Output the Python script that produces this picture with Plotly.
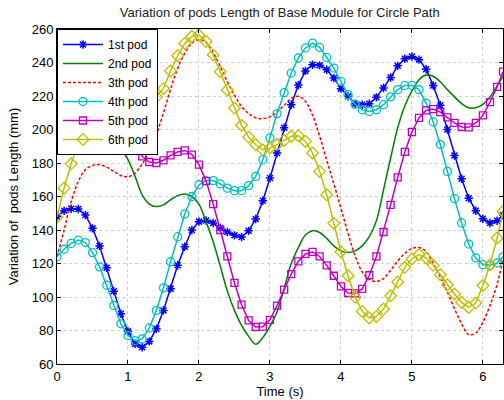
import plotly.graph_objects as go

TIME = [0.0, 0.1, 0.2, 0.3, 0.4, 0.5, 0.6, 0.7, 0.8, 0.9,
        1.0, 1.1, 1.2, 1.3, 1.4, 1.5, 1.6, 1.7, 1.8, 1.9,
        2.0, 2.1, 2.2, 2.3, 2.4, 2.5, 2.6, 2.7, 2.8, 2.9,
        3.0, 3.1, 3.2, 3.3, 3.4, 3.5, 3.6, 3.7, 3.8, 3.9,
        4.0, 4.1, 4.2, 4.3, 4.4, 4.5, 4.6, 4.7, 4.8, 4.9,
        5.0, 5.1, 5.2, 5.3, 5.4, 5.5, 5.6, 5.7, 5.8, 5.9,
        6.0, 6.1, 6.2, 6.2832]

POD1 = [148, 151.5, 152.7, 152.5, 149, 141, 130.5, 117.5, 103.5, 90,
        79.5, 72, 70, 73.5, 81, 92, 105, 119, 130, 140,
        145, 145.7, 144.2, 141.2, 138.8, 136.8, 135.8, 139.5, 146.6, 157.5,
        171, 186, 201, 214.8, 226.5, 235, 238.7, 238.3, 235.7, 230.7,
        224.4, 219.8, 215.4, 214.8, 215.4, 219.2, 224.8, 231, 238, 242.3,
        243.6, 241.7, 236, 226.3, 214.5, 200, 184.5, 170.6, 159, 151.5,
        146.7, 144.2, 145.5, 149]

POD2 = [231.7, 235, 237, 237, 235, 230, 222, 212, 200, 189,
        182, 172, 161, 155.5, 154, 155, 158, 160.5, 161.5, 160,
        155.5, 145, 133, 118.5, 103.5, 92, 83, 76.5, 71.8, 75.8,
        82.5, 91, 105, 120, 129.5, 137, 139.6, 138.5, 135, 130.5,
        127.5, 126.5, 127.5, 130.5, 136, 145.5, 164, 183, 201, 214,
        223, 229.7, 232.5, 231.8, 228.5, 223.8, 219.5, 215.5, 213, 213,
        215, 219.5, 226, 231.7]

POD3 = [124, 140, 157, 169, 176, 178.5, 179, 177.5, 175, 172.5,
        171.8, 174, 179.5, 186.5, 197, 210, 224, 236.5, 245.5, 251.6,
        253.6, 251.8, 246, 237.5, 228.5, 220.5, 213.8, 209.5, 207, 206.5,
        207.5, 210.5, 214.5, 218.5, 219.8, 216.8, 208.5, 196, 181.5, 167.5,
        153, 138, 124.5, 115, 110.5, 109.3, 111, 116, 121.5, 126,
        129, 129.5, 127, 120, 112, 103, 93, 84, 77.5, 78.5,
        85, 95, 107.5, 123]

POD4 = [124, 128.5, 132, 134, 132.5, 126.5, 118, 107, 95, 84,
        77, 74, 75, 81.5, 92, 105.5, 121, 136, 149.5, 160,
        167, 169.5, 169.5, 167.5, 165, 163.5, 163.5, 166.5, 172, 182,
        195, 209.5, 222, 233.7, 242.7, 248.7, 251.6, 249, 243, 236.7,
        228.7, 220.8, 215, 211.8, 210.8, 211.8, 214.8, 219.5, 223.8, 226.3,
        226.3, 223.8, 215.8, 204.5, 191, 175, 158.7, 144.2, 131.6, 123.3,
        119.3, 118.9, 120.3, 124]

POD5 = [234.5, 241, 244, 244, 241, 235, 226, 216, 206, 199,
        194, 190, 184, 180.6, 180, 181.6, 184.5, 186.6, 187.5, 185,
        179, 169.2, 155.5, 140, 124.2, 108.4, 95.4, 86, 82.1, 82.3,
        86.4, 94.8, 104.4, 113.7, 121.3, 125.7, 126.9, 124.2, 118.9, 112.7,
        106.3, 102.4, 102.2, 104.8, 113, 124.2, 138.8, 155, 171.4, 186.6,
        198.5, 206.9, 211.4, 212.2, 210.4, 207.2, 203.9, 201.5, 201.3, 203.9,
        208.4, 216.4, 225.4, 234.5]

POD6 = [147.8, 165, 179.5, 191.5, 200, 207, 211, 213, 213, 212,
        211, 211, 212.5, 215.5, 219.5, 224.5, 235, 244, 251.4, 255.6,
        256.4, 252.5, 244.5, 234.5, 223.6, 212.8, 202.5, 195.5, 190.9, 187.9,
        189, 191, 193.5, 195.9, 196.3, 192.9, 186, 175, 161, 144,
        127, 112.7, 99.8, 91.4, 87.5, 88.4, 92.8, 100.7, 109, 117.7,
        122.7, 125.3, 123.3, 118.9, 113.3, 107.3, 101.8, 96.8, 93.8, 96.4,
        106.9, 119.3, 135.2, 151]

NAMES = ["1st pod", "2nd pod", "3th pod", "4th pod", "5th pod", "6th pod"]

FONT = "Liberation Sans, Arial, sans-serif"

fig = go.Figure()

fig.add_trace(go.Scatter(x=TIME, y=POD1, name=NAMES[0], mode="lines+markers",
                         line=dict(color="#0000ff", width=1.5),
                         marker=dict(symbol="asterisk-open", size=7,
                                     line=dict(color="#0000ff", width=1.5))))
fig.add_trace(go.Scatter(x=TIME, y=POD2, name=NAMES[1], mode="lines",
                         line=dict(color="#008000", width=1.5, shape="spline")))
fig.add_trace(go.Scatter(x=TIME, y=POD3, name=NAMES[2], mode="lines",
                         line=dict(color="#ff0000", width=1.5, shape="spline",
                                   dash="3px,2px")))
fig.add_trace(go.Scatter(x=TIME, y=POD4, name=NAMES[3], mode="lines+markers",
                         line=dict(color="#00bfbf", width=1.5),
                         marker=dict(symbol="circle-open", size=8,
                                     line=dict(color="#00bfbf", width=1.3))))
fig.add_trace(go.Scatter(x=TIME, y=POD5, name=NAMES[4], mode="lines+markers",
                         line=dict(color="#bf00bf", width=1.5),
                         marker=dict(symbol="square-open", size=7,
                                     line=dict(color="#bf00bf", width=1.3))))
fig.add_trace(go.Scatter(x=TIME, y=POD6, name=NAMES[5], mode="lines+markers",
                         line=dict(color="#bfbf00", width=1.5),
                         marker=dict(symbol="diamond-open", size=9,
                                     line=dict(color="#bfbf00", width=1.3))))

axis_common = dict(showline=True, linecolor="#000000", linewidth=1, mirror="ticks",
                   ticks="inside", ticklen=4, tickcolor="#000000",
                   showgrid=True, gridcolor="#cfcfcf", griddash="dot", gridwidth=1,
                   zeroline=False, tickfont=dict(family=FONT, size=13, color="#000000"))

fig.update_xaxes(range=[0, 6.2832], tickmode="array", tickvals=[0, 1, 2, 3, 4, 5, 6],
                 title=dict(text="Time (s)", font=dict(family=FONT, size=13, color="#000000"),
                            standoff=4),
                 **axis_common)
fig.update_yaxes(range=[60, 260], tickmode="array",
                 tickvals=[60, 80, 100, 120, 140, 160, 180, 200, 220, 240, 260],
                 title=dict(text="Variation of \u00a0pods Length (mm)",
                            font=dict(family=FONT, size=13, color="#000000"),
                            standoff=10),
                 **axis_common)

fig.update_layout(
    width=504, height=400,
    margin=dict(l=57, r=1, t=29, b=36),
    paper_bgcolor="#ffffff", plot_bgcolor="#ffffff",
    title=dict(text="Variation of pods Length of Base Module for Circle Path",
               font=dict(family=FONT, size=13, color="#222222"),
               x=0.555, xanchor="center", y=0.97, yanchor="middle"),
    legend=dict(x=0, y=1, xanchor="left", yanchor="top",
                bgcolor="#ffffff", bordercolor="#000000", borderwidth=1,
                font=dict(family=FONT, size=12, color="#000000"),
                itemwidth=40, tracegroupgap=0),
    showlegend=True,
    hovermode=False,
)

fig.write_html("out.html",
               config={"displayModeBar": False},
               post_script="document.body.style.margin='0';document.body.style.padding='0';")
